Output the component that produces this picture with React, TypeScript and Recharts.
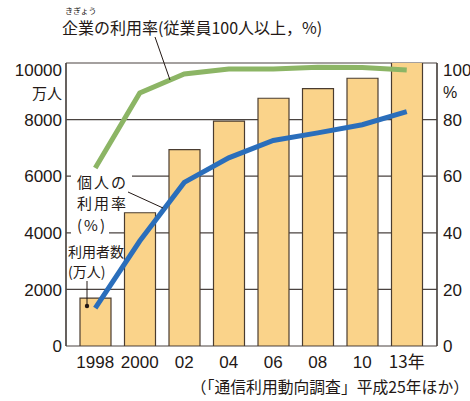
import React from 'react';
import { ComposedChart, Bar, Line, XAxis, YAxis, CartesianGrid } from 'recharts';

// 年ごとのデータ
const years = ['1998', '2000', '02', '04', '06', '08', '10', '13年'];
const users = [1694, 4708, 6942, 7948, 8754, 9091, 9462, 10044]; // 利用者数（万人）
const personalRate = [13.4, 37.1, 57.8, 66.5, 72.6, 75.3, 78.2, 82.8]; // 個人の利用率（%）
const companyRate = [62.9, 89.4, 96.1, 97.9, 97.9, 98.5, 98.4, 97.5]; // 企業の利用率（%）
const leftTicks = [0, 2000, 4000, 6000, 8000, 10000];
const rightTicks = [0, 20, 40, 60, 80, 100];

const data = years.map((year, i) => ({
  year,
  users: users[i],
  personal: personalRate[i],
  company: companyRate[i],
}));

const INK = '#231815';
const LINE = '#4a4340';
const NUM_FONT = '"Liberation Sans", Arial, sans-serif';
const JP_FONT = '"Noto Sans CJK JP", sans-serif';

// 一番上の目盛りだけ少し下にずらす
const YTick = (props: any) => {
  const { x, y, payload, textAnchor, top } = props;
  return (
    <text
      x={x}
      y={y + (payload.value === top ? 7 : 0)}
      dy="0.36em"
      textAnchor={textAnchor}
      fontSize={17}
      fill={INK}
      fontFamily={NUM_FONT}
    >
      {payload.value}
    </text>
  );
};

const XTick = (props: any) => {
  const { x, y, payload } = props;
  return (
    <text x={x} y={y} dy="0.71em" textAnchor="middle" fontSize={17} fill={INK} fontFamily={payload.value.includes('年') ? JP_FONT : NUM_FONT}>
      {payload.value}
    </text>
  );
};

// 複数行の注記（行の高さを固定）
const Note = ({ left, top, size, lh, ls = 0, children }: any) => (
  <div
    style={{
      position: 'absolute',
      left,
      top,
      fontSize: size,
      lineHeight: `${lh}px`,
      letterSpacing: ls,
      fontFamily: JP_FONT,
      color: INK,
      whiteSpace: 'nowrap',
    }}
  >
    {children}
  </div>
);

const App = () => {
  return (
    <div style={{ position: 'absolute', left: 0, top: 0, width: 470, height: 401, background: '#fff' }}>
      <ComposedChart width={470} height={401} data={data} margin={{ top: 63, right: 3, bottom: 25, left: 6 }}>
        <CartesianGrid yAxisId="left" stroke={LINE} strokeWidth={1.2} verticalPoints={[66, 437]} />
        <XAxis
          dataKey="year"
          height={30}
          axisLine={false}
          tickLine={false}
          tickSize={0}
          tickMargin={10}
          padding={{ left: 7, right: 8 }}
          interval={0}
          tick={<XTick />}
        />
        <YAxis
          yAxisId="left"
          width={60}
          domain={[0, 10000]}
          ticks={leftTicks}
          allowDataOverflow
          axisLine={{ stroke: LINE, strokeWidth: 1.2 }}
          tickLine={false}
          tickSize={0}
          tickMargin={4}
          tick={<YTick top={10000} />}
        />
        <YAxis
          yAxisId="right"
          orientation="right"
          width={30}
          domain={[0, 100]}
          ticks={rightTicks}
          axisLine={{ stroke: LINE, strokeWidth: 1.2 }}
          tickLine={false}
          tickSize={0}
          tickMargin={6}
          tick={<YTick top={100} />}
        />
        <Bar yAxisId="left" dataKey="users" barSize={31} fill="#fad38a" stroke="#4a3c30" strokeWidth={1.2} isAnimationActive={false} />
        <Line yAxisId="right" dataKey="company" type="linear" stroke="#8cb565" strokeWidth={5} dot={false} isAnimationActive={false} />
        <Line yAxisId="right" dataKey="personal" type="linear" stroke="#2a6ebb" strokeWidth={5} dot={false} isAnimationActive={false} />
      </ComposedChart>

      {/* 注記 */}
      <svg width={470} height={401} style={{ position: 'absolute', left: 0, top: 0, pointerEvents: 'none' }}>
        <rect x={71} y={172} width={61} height={8} fill="#fff" />
        <rect x={71} y={229} width={38} height={8} fill="#fff" />
        <text x={65} y={14} fontSize={8} fill={INK} fontFamily={JP_FONT}>きぎょう</text>
        <text x={62} y={34} fontSize={16} fill={INK} fontFamily={JP_FONT}>企業の利用率(従業員100人以上，%)</text>
        <line x1={155} y1={37} x2={170} y2={80} stroke={INK} strokeWidth={1} />
        <text x={62} y={99} textAnchor="end" fontSize={15} fill={INK} fontFamily={JP_FONT}>万人</text>
        <text x={443} y={98} fontSize={16} fill={INK} fontFamily={NUM_FONT}>%</text>
        <line x1={128} y1={192} x2={163} y2={208} stroke={INK} strokeWidth={1} />
        <line x1={87} y1={281} x2={87} y2={306} stroke={INK} strokeWidth={1} />
        <circle cx={87} cy={306} r={2.2} fill={INK} />
        <text x={469} y={393} textAnchor="end" fontSize={15.8} fill={INK} fontFamily={JP_FONT}>（「通信利用動向調査」平成25年ほか）</text>
      </svg>
      <Note left={77} top={170.6} size={15} lh={21.8} ls={2}>
        個人の<br />利用率<br />(%)
      </Note>
      <Note left={68} top={241} size={14} lh={20}>
        利用者数<br />(万人)
      </Note>
    </div>
  );
};

export default App;
